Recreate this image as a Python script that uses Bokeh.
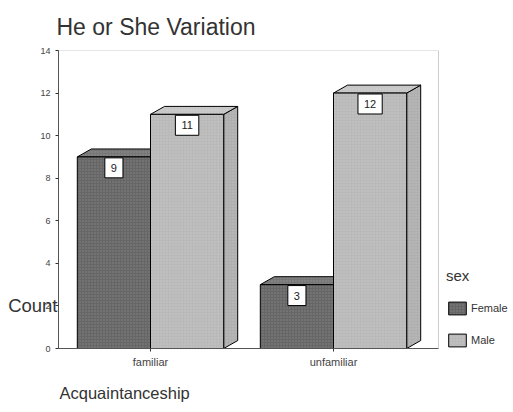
from bokeh.plotting import figure
from bokeh.models import (Range1d, FixedTicker, Legend, LegendItem, Title,
                          LinearAxis, BoxAnnotation)
from bokeh.core.properties import value
from bokeh.embed import file_html
from bokeh.resources import INLINE

categories = ["familiar", "unfamiliar"]
female_counts = [9, 3]
male_counts = [11, 12]
y_ticks = [0, 2, 4, 6, 8, 10, 12, 14]

FONT = "Liberation Sans"
W, H = 513, 412
PX_PER_X = 183.0
PX_PER_Y = 300.0 / 14
X0 = 1 - 92 / PX_PER_X          # left edge of chart box
XR = X0 + 380 / PX_PER_X        # right edge of chart box
X1 = X0 + 455 / PX_PER_X        # frame extends over the legend area

p = figure(width=W, height=H, output_backend="svg", toolbar_location=None,
           x_range=Range1d(X0, X1), y_range=Range1d(0, 14),
           min_border_left=58, min_border_right=0, min_border_top=50,
           min_border_bottom=62, background_fill_color="white",
           border_fill_color="white")
p.grid.visible = False
p.outline_line_color = None

box = BoxAnnotation(left=X0, right=XR, bottom=0, top=14, fill_alpha=0,
                    line_color="#555555", line_width=1)
p.add_layout(box)

BW = 0.4
DX = 14 / PX_PER_X
DY = 8 / PX_PER_Y
centers = [i + 1 for i in range(len(categories))]

series = [
    ("Female", female_counts, -BW, "#666666", "#777777", "#5a5a5a"),
    ("Male", male_counts, 0.0, "#b9b9b9", "#c6c6c6", "#afafaf"),
]
hatch = dict(hatch_pattern="dot", hatch_color="white", hatch_alpha=0.2, hatch_scale=3)
fronts = {}
for name, vals, off, c_front, c_top, c_side in series:
    lefts = [c + off for c in centers]
    rights = [l + BW for l in lefts]
    side_xs = [[r, r + DX, r + DX, r] for r in rights]
    side_ys = [[0, DY, v + DY, v] for v in vals]
    p.patches(side_xs, side_ys, fill_color=c_side, line_color="black", line_width=1, **hatch)
    top_xs = [[l, r, r + DX, l + DX] for l, r in zip(lefts, rights)]
    top_ys = [[v, v, v + DY, v + DY] for v in vals]
    p.patches(top_xs, top_ys, fill_color=c_top, line_color="black", line_width=1, **hatch)
    fronts[name] = p.quad(left=lefts, right=rights, bottom=0, top=vals,
                          fill_color=c_front, line_color="black", line_width=1, **hatch)
    p.text(x=[(l + r) / 2 for l, r in zip(lefts, rights)],
           y=[v - 11 / PX_PER_Y for v in vals],
           text=[str(v) for v in vals], text_align="center", text_baseline="middle",
           text_font_size="11px", text_color="#222222", text_font=value(FONT),
           background_fill_color="white", border_line_color="black",
           border_line_width=1, padding=6)

# axes
p.yaxis.ticker = FixedTicker(ticks=y_ticks)
p.xaxis.ticker = FixedTicker(ticks=centers)
p.xaxis.major_label_overrides = {c: n for c, n in zip(centers, categories)}
p.xaxis.bounds = (X0, XR)
for ax in (p.xaxis[0], p.yaxis[0]):
    ax.axis_line_color = "#555555"
    ax.major_tick_line_color = "#333333"
    ax.major_tick_out = 3
    ax.major_tick_in = 0
    ax.minor_tick_line_color = None
    ax.major_label_text_color = "#444444"
    ax.major_label_text_font = FONT
p.yaxis.major_label_text_font_size = "9px"
p.xaxis.major_label_text_font_size = "11px"
p.yaxis.major_label_standoff = 5
p.xaxis.major_label_standoff = 4

# "Count" label drawn as a second left axis with a single tick label
count_axis = LinearAxis(ticker=FixedTicker(ticks=[2]), major_label_overrides={2: "Count"},
                        axis_line_color=None, major_tick_line_color=None,
                        major_tick_out=0, major_tick_in=0,
                        minor_tick_line_color=None, major_label_standoff=-20,
                        major_label_text_font=FONT, major_label_text_font_size="18.5px",
                        major_label_text_color="#333333")
p.add_layout(count_axis, "left")

# title
p.title.text = "He or She Variation"
p.title.text_font = FONT
p.title.text_font_size = "23px"
p.title.text_font_style = "normal"
p.title.text_color = "#333333"
p.title.align = "left"
p.title.offset = -2
p.title.standoff = 21

xt = Title(text="Acquaintanceship", align="left", text_font=FONT, offset=1,
           text_font_size="16.5px", text_font_style="normal", text_color="#333333",
           standoff=22)
p.add_layout(xt, "below")

legend = Legend(items=[LegendItem(label="Female", renderers=[fronts["Female"]]),
                       LegendItem(label="Male", renderers=[fronts["Male"]])],
                title="sex", location=(388, 0), margin=0, padding=0,
                glyph_width=22, glyph_height=16, spacing=16, label_standoff=3,
                label_text_font=FONT, label_text_font_size="11px",
                label_text_color="#333333", title_text_font=FONT,
                title_text_font_size="15px", title_text_font_style="normal",
                title_text_color="#333333", title_standoff=16,
                border_line_color=None, background_fill_alpha=0)
p.add_layout(legend)

open("out.html", "w").write(file_html(p, INLINE))
